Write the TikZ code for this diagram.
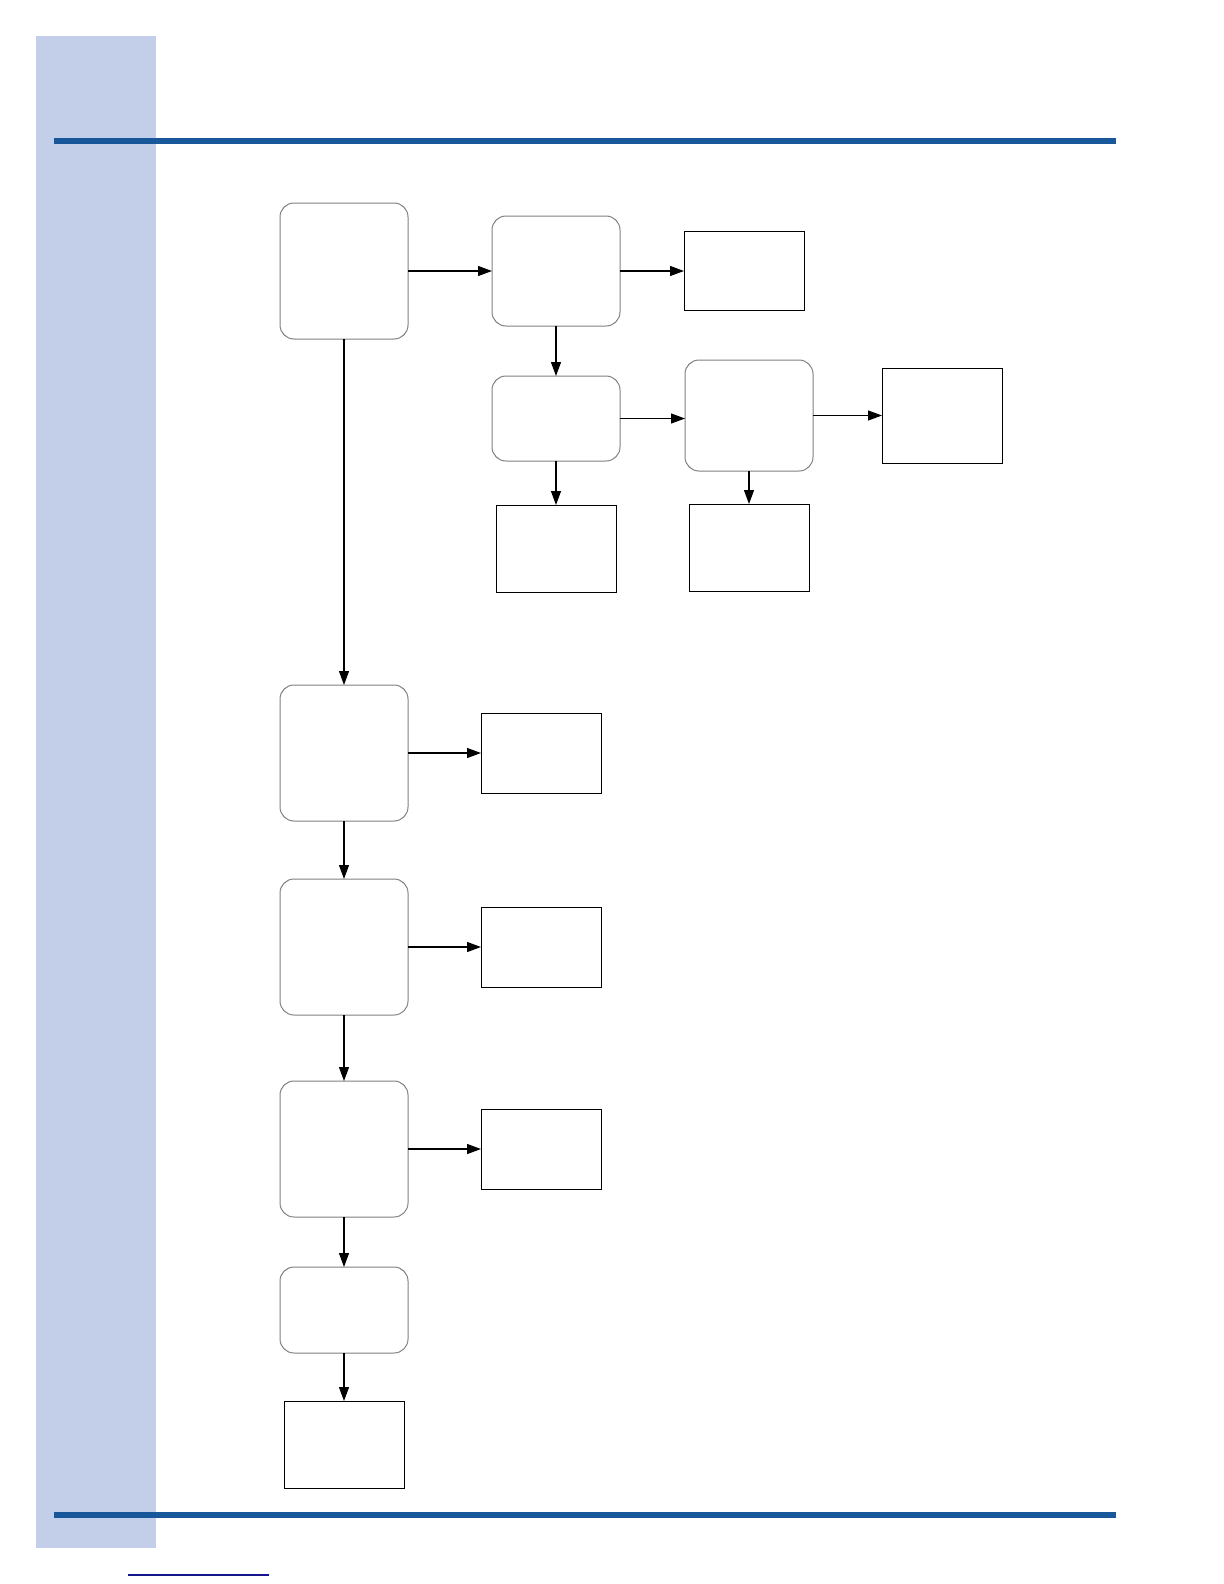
\documentclass[tikz,border=0pt]{standalone}
\usepackage{tikz}
\usepackage{xcolor}
\usetikzlibrary{arrows.meta,positioning}

\definecolor{panelblue}{RGB}{195,207,232}
\definecolor{barblue}{RGB}{24,88,154}
\definecolor{linkblue}{RGB}{20,20,140}

\begin{document}
\begin{tikzpicture}[
    x=0.5pt, y=-0.5pt,
    rbox/.style={draw=gray, line width=0.5pt, rounded corners=7pt, inner sep=0pt, outer sep=0pt, minimum width=64pt, minimum height=#1},
    rbox/.default=68pt,
    sbox/.style={draw, line width=0.5pt, inner sep=0pt, outer sep=0pt, minimum width=60pt, minimum height=#1},
    sbox/.default=40pt,
    arr/.style={-{Triangle[length=7pt, width=5pt]}, line width=0.6pt},
]
\useasboundingbox (0,0) rectangle (1224,1584);
% Page frame
\fill[panelblue] (36,36) rectangle (156,1548);
\fill[barblue] (54,138) rectangle (1116,144);
\fill[barblue] (54,1512) rectangle (1116,1518);
\draw[linkblue, line width=0.6pt] (128,1575) -- (269,1575);
% Main column
\node[rbox] (start) at (344,271) {};
\node[rbox, below=173pt of start] (stepa) {};
\node[rbox, below=29pt of stepa] (stepb) {};
\node[rbox, below=33pt of stepb] (stepc) {};
\node[rbox=43pt, below=25pt of stepc] (stepd) {};
\node[sbox=43.5pt, below=24pt of stepd] (endd) {};
% Side results
\node[sbox, right=36.5pt of stepa] (enda) {};
\node[sbox, right=36.5pt of stepb] (endb) {};
\node[sbox, right=36.5pt of stepc] (endc) {};
% Upper branch
\node[rbox=55pt, right=42pt of start] (chk) {};
\node[sbox=39.5pt, right=32pt of chk] (endchk) {};
\node[rbox=42.5pt, below=25pt of chk] (sub) {};
\node[rbox=55.5pt, right=32.5pt of sub, yshift=1.5pt] (subb) {};
\node[sbox=47.5pt, right=34.5pt of subb] (endsubb) {};
\node[sbox=43.5pt, below=22pt of sub] (endsub) {};
\node[sbox=43.5pt, below=16.5pt of subb] (endsubc) {};
% Arrows
\draw[arr] (start) -- (chk);
\draw[arr] (chk) -- (endchk);
\draw[arr] (chk) -- (sub);
\draw[arr] (sub.east) -- (subb.west |- sub.east);
\draw[arr] (subb) -- (endsubb);
\draw[arr] (sub) -- (endsub);
\draw[arr] (subb) -- (endsubc);
\draw[arr] (start) -- (stepa);
\draw[arr] (stepa) -- (enda);
\draw[arr] (stepa) -- (stepb);
\draw[arr] (stepb) -- (endb);
\draw[arr] (stepb) -- (stepc);
\draw[arr] (stepc) -- (endc);
\draw[arr] (stepc) -- (stepd);
\draw[arr] (stepd) -- (endd);
\end{tikzpicture}
\end{document}
